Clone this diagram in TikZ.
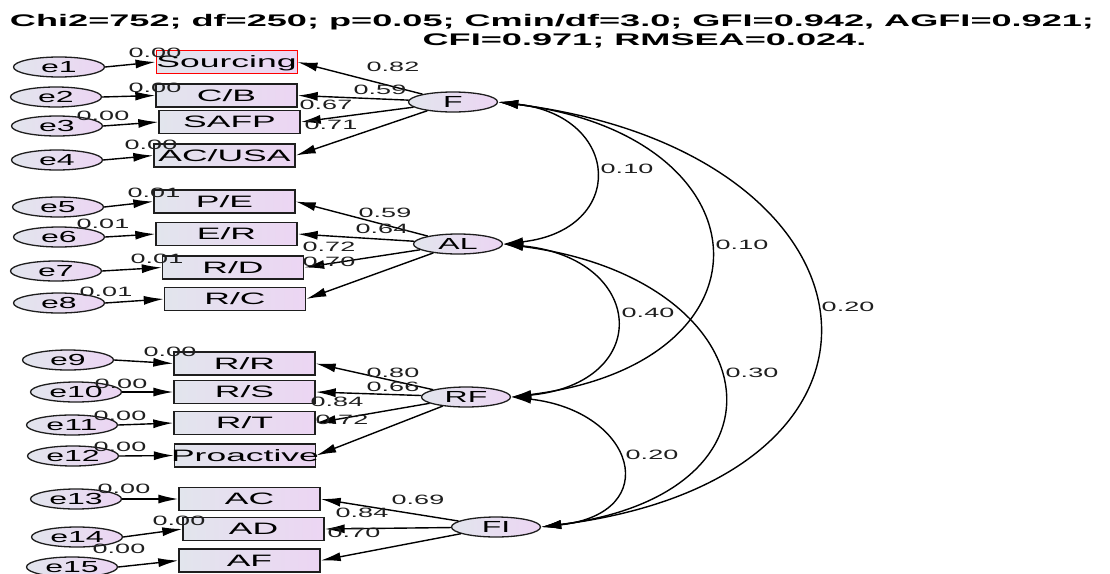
\documentclass[tikz,border=0pt]{standalone}
\usepackage{fontspec}
\setmainfont{Liberation Sans}
\usepackage{graphicx}
\usetikzlibrary{arrows.meta,shapes.geometric}

\definecolor{fillL}{RGB}{226,229,237}
\definecolor{fillR}{RGB}{236,213,243}
\definecolor{edge}{RGB}{30,30,30}

% wide lettering, kept from widening the node that holds it
\def\hscale{2.15}
\newcommand\wide[1]{\makebox[0pt]{\scalebox{\hscale}[1]{#1}}}

\tikzset{
  obs/.style={rectangle, draw=edge, line width=1.4pt, left color=fillL, right color=fillR,
    minimum width=141pt, minimum height=23pt, inner sep=0pt,
    text height=11.8pt, text depth=0pt, font=\fontsize{16.5}{18}\selectfont\def\hscale{2.15}},
  lat/.style={ellipse, draw=edge, line width=1.3pt, left color=fillL, right color=fillR,
    minimum width=89pt, minimum height=20pt, inner sep=0pt,
    text height=11.4pt, text depth=0pt, font=\fontsize{16}{18}\selectfont\def\hscale{2.0}},
  err/.style={lat, minimum width=91pt},
  est/.style={inner sep=0pt, text height=9.7pt, text depth=0pt, text=black!88,
    font=\fontsize{13.5}{15}\selectfont\def\hscale{2.0}},
  ttl/.style={inner sep=0pt, text height=12pt, text depth=0pt,
    font=\fontsize{16.8}{19}\selectfont\bfseries\def\hscale{2.15}},
  reg/.style={draw=black, line width=1.4pt, -{Latex[length=20pt,width=9pt]}},
  cov/.style={draw=black, line width=1.4pt,
    {Latex[length=20pt,width=9pt]}-{Latex[length=20pt,width=9pt]}},
}

\begin{document}
\begin{tikzpicture}[x=1pt,y=-1pt]
\useasboundingbox[fill=white] (0,0) rectangle (1110,573);

% fit summary
\node[ttl] (fit1) at (552,20) {\wide{Chi2=752; df=250; p=0.05; Cmin/df=3.0; GFI=0.942, AGFI=0.921;}};
\node[ttl] (fit2) at (644.5,39) {\wide{CFI=0.971; RMSEA=0.024.}};

% observed indicators
\node[obs, draw=red, line width=1pt] (Sourcing) at (226.5,62) {\wide{Sourcing}};
\node[obs] (CB)    at (226.5,95.5)  {\wide{C/B}};
\node[obs] (SAFP)  at (229.5,122)   {\wide{SAFP}};
\node[obs] (ACUSA) at (224.5,155.5) {\wide{AC/USA}};
\node[obs] (PE)    at (224.5,201.5) {\wide{P/E}};
\node[obs] (ER)    at (226.5,234)   {\wide{E/R}};
\node[obs] (RD)    at (233,267.5)   {\wide{R/D}};
\node[obs] (RC)    at (235,299)     {\wide{R/C}};
\node[obs] (RR)    at (244.5,363.5) {\wide{R/R}};
\node[obs] (RS)    at (244.5,392)   {\wide{R/S}};
\node[obs] (RT)    at (244.5,423)   {\wide{R/T}};
\node[obs] (Pro)   at (245,455.5)   {\wide{Proactive}};
\node[obs] (AC)    at (249.5,499)   {\wide{AC}};
\node[obs] (AD)    at (253.5,529)   {\wide{AD}};
\node[obs] (AF)    at (249.5,560.5) {\wide{AF}};

% error terms
\node[err] (e1)  at (59,67)  {\wide{e1}};
\node[err] (e2)  at (56,97)  {\wide{e2}};
\node[err] (e3)  at (57,126) {\wide{e3}};
\node[err] (e4)  at (57,160) {\wide{e4}};
\node[err] (e5)  at (58,207) {\wide{e5}};
\node[err] (e6)  at (59,237) {\wide{e6}};
\node[err] (e7)  at (56,271) {\wide{e7}};
\node[err] (e8)  at (59,303) {\wide{e8}};
\node[err] (e9)  at (68,360) {\wide{e9}};
\node[err] (e10) at (76,392) {\wide{e10}};
\node[err] (e11) at (72,425) {\wide{e11}};
\node[err] (e12) at (73,456) {\wide{e12}};
\node[err] (e13) at (76,499) {\wide{e13}};
\node[err] (e14) at (77,537) {\wide{e14}};
\node[err] (e15) at (72,567) {\wide{e15}};

% latent factors
\node[lat] (F)  at (453,102) {\wide{F}};
\node[lat] (AL) at (458,244) {\wide{AL}};
\node[lat] (RF) at (466,397) {\wide{RF}};
\node[lat] (FI) at (496,527) {\wide{FI}};

% error paths
\draw[reg] (e1.east)  -- (Sourcing.west);
\draw[reg] (e2.east)  -- (CB.west);
\draw[reg] (e3.east)  -- (SAFP.west);
\draw[reg] (e4.east)  -- (ACUSA.west);
\draw[reg] (e5.east)  -- (PE.west);
\draw[reg] (e6.east)  -- (ER.west);
\draw[reg] (e7.east)  -- (RD.west);
\draw[reg] (e8.east)  -- (RC.west);
\draw[reg] (e9.east)  -- (RR.west);
\draw[reg] (e10.east) -- (RS.west);
\draw[reg] (e11.east) -- (RT.west);
\draw[reg] (e12.east) -- (Pro.west);
\draw[reg] (e13.east) -- (AC.west);
\draw[reg] (e14.east) -- (AD.west);
\draw[reg] (e15.east) -- (AF.west);

% factor loadings
\draw[reg] (F) -- (Sourcing.east);
\draw[reg] (F) -- (CB.east);
\draw[reg] (F) -- (SAFP.east);
\draw[reg] (F) -- (ACUSA.east);
\draw[reg] (AL) -- (PE.east);
\draw[reg] (AL) -- (ER.east);
\draw[reg] (AL) -- (RD.east);
\draw[reg] (AL) -- (RC.east);
\draw[reg] (RF) -- (RR.east);
\draw[reg] (RF) -- (RS.east);
\draw[reg] (RF) -- (RT.east);
\draw[reg] (RF) -- (Pro.east);
\draw[reg] (FI) -- (AC.east);
\draw[reg] (FI) -- (AD.east);
\draw[reg] (FI) -- (AF.east);

% factor covariances
\draw[cov] (F.east)  .. controls +(124,14) and +(124,-14) .. (AL.east);
\draw[cov] (F.east)  .. controls +(272,34) and +(272,-34) .. (RF.east);
\draw[cov] (F.east)  .. controls +(395,50) and +(395,-50) .. (FI.east);
\draw[cov] (AL.east) .. controls +(143,14) and +(143,-14) .. (RF.east);
\draw[cov] (AL.east) .. controls +(265,34) and +(265,-34) .. (FI.east);
\draw[cov] (RF.east) .. controls +(124,14) and +(124,-14) .. (FI.east);

% error variances
\node[est] (v1)  at (155,53)  {\wide{0.00}};
\node[est] (v2)  at (155,88)  {\wide{0.00}};
\node[est] (v3)  at (103,116) {\wide{0.00}};
\node[est] (v4)  at (151,145) {\wide{0.00}};
\node[est] (v5)  at (154,193) {\wide{0.01}};
\node[est] (v6)  at (103,224) {\wide{0.01}};
\node[est] (v7)  at (157,259) {\wide{0.01}};
\node[est] (v8)  at (106,292) {\wide{0.01}};
\node[est] (v9)  at (170,352) {\wide{0.00}};
\node[est] (v10) at (121,384) {\wide{0.00}};
\node[est] (v11) at (120,416) {\wide{0.00}};
\node[est] (v12) at (120,447) {\wide{0.00}};
\node[est] (v13) at (124,489) {\wide{0.00}};
\node[est] (v14) at (179,521) {\wide{0.00}};
\node[est] (v15) at (119,549) {\wide{0.00}};

% loading estimates
\node[est] (w1)  at (393,67)  {\wide{0.82}};
\node[est] (w2)  at (380,90)  {\wide{0.59}};
\node[est] (w3)  at (326,105) {\wide{0.67}};
\node[est] (w4)  at (331,125) {\wide{0.71}};
\node[est] (w5)  at (385,213) {\wide{0.59}};
\node[est] (w6)  at (382,229) {\wide{0.64}};
\node[est] (w7)  at (329,247) {\wide{0.72}};
\node[est] (w8)  at (329,262) {\wide{0.70}};
\node[est] (w9)  at (393,373) {\wide{0.80}};
\node[est] (w10) at (393,387) {\wide{0.66}};
\node[est] (w11) at (337,402) {\wide{0.84}};
\node[est] (w12) at (342,420) {\wide{0.72}};
\node[est] (w13) at (418,500) {\wide{0.69}};
\node[est] (w14) at (362,513) {\wide{0.84}};
\node[est] (w15) at (354,533) {\wide{0.70}};

% covariance estimates
\node[est] (c1) at (627,169) {\wide{0.10}};
\node[est] (c2) at (742,245) {\wide{0.10}};
\node[est] (c3) at (848,307) {\wide{0.20}};
\node[est] (c4) at (648,313) {\wide{0.40}};
\node[est] (c5) at (752,373) {\wide{0.30}};
\node[est] (c6) at (652,455) {\wide{0.20}};
\end{tikzpicture}
\end{document}
